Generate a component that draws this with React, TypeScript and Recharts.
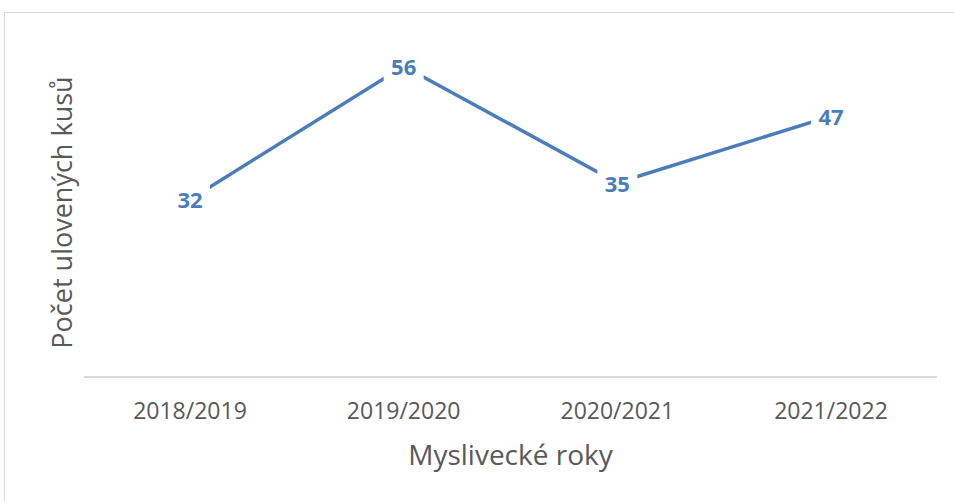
import { LabelList, Line, LineChart, XAxis, YAxis } from 'recharts';

const years = ['2018/2019', '2019/2020', '2020/2021', '2021/2022'];
const catches = [32, 56, 35, 47];

const data = years.map((year, i) => ({ year, value: catches[i] }));

const BLUE = '#4A7EBB';
const FONT = '"Open Sans", "Noto Sans", sans-serif';

/* eslint-disable @typescript-eslint/no-explicit-any */
function PointLabel({ x, y, value }: any) {
  const w = String(value).length * 12 + 16;
  return (
    <g>
      <rect x={x - w / 2} y={y - 15} width={w} height={30} fill="#fff" />
      <text
        x={x}
        y={y}
        textAnchor="middle"
        dominantBaseline="central"
        fill={BLUE}
        fontSize={22}
        fontWeight={700}
        fontFamily={FONT}
      >
        {value}
      </text>
    </g>
  );
}

export default function App() {
  return (
    <div style={{ position: 'absolute', left: 0, top: 0, width: 954, height: 501, background: '#fff', overflow: 'hidden' }}>
      <div
        style={{
          position: 'absolute',
          left: 4,
          top: 12,
          width: 1000,
          height: 600,
          border: '1px solid #d9d9d9',
        }}
      />
      <div style={{ position: 'absolute', left: 0, top: 0 }}>
        <LineChart width={954} height={501} data={data} margin={{ top: 44, right: 17, bottom: 0, left: 0 }}>
          <XAxis
            dataKey="year"
            height={124}
            padding={{ left: 106, right: 106 }}
            tickLine={false}
            axisLine={{ stroke: '#d9d9d9', strokeWidth: 2 }}
            tickMargin={20}
            tick={{ fill: '#595959', fontSize: 23, fontFamily: FONT }}
            label={{
              value: 'Myslivecké roky',
              position: 'insideBottom',
              offset: 36,
              fill: '#595959',
              fontSize: 28,
              fontFamily: FONT,
            }}
          />
          <YAxis
            width={84}
            domain={[0, 60]}
            tick={false}
            tickLine={false}
            axisLine={false}
            label={{
              value: 'Počet ulovených kusů',
              angle: -90,
              position: 'center',
              dx: 20,
              dy: 2,
              fill: '#595959',
              fontSize: 27,
              fontFamily: FONT,
            }}
          />
          <Line
            type="linear"
            dataKey="value"
            stroke={BLUE}
            strokeWidth={3.5}
            dot={false}
            activeDot={false}
            isAnimationActive={false}
          >
            <LabelList dataKey="value" content={<PointLabel />} />
          </Line>
        </LineChart>
      </div>
    </div>
  );
}
